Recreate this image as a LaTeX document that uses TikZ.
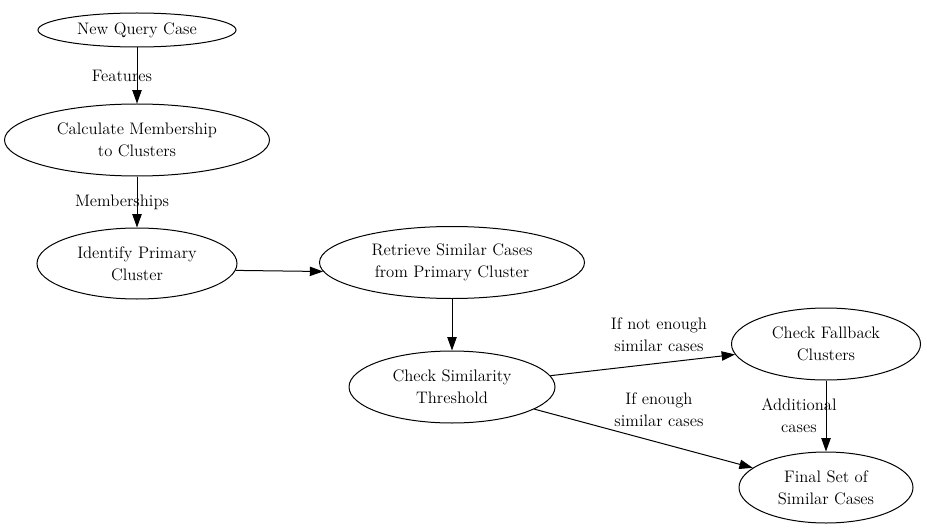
\documentclass[tikz,border=0pt]{standalone}
\usetikzlibrary{shapes.geometric,arrows.meta}

\begin{document}
\begin{tikzpicture}[x=0.75pt,y=-0.75pt,line width=0.75pt,
    every node/.style={font=\fontsize{12.5}{16.5}\selectfont, align=center},
    state/.style={draw, ellipse, inner sep=0pt},
    >={Triangle[length=10pt,width=7pt]}]
              \useasboundingbox (0,0) rectangle (927,531);

              \node [state, minimum width=148.5pt, minimum height=25.5pt] (query) at (137,30) {New Query Case};
              \node [state, minimum width=198.75pt, minimum height=54pt] (member) at (137,140) {Calculate Membership\\to Clusters};
              \node [state, minimum width=150pt, minimum height=53.25pt] (primary) at (137,263.5) {Identify Primary\\Cluster};
              \node [state, minimum width=198.75pt, minimum height=54pt] (retrieve) at (452,262.5) {Retrieve Similar Cases\\from Primary Cluster};
              \node [state, minimum width=154.5pt, minimum height=54pt] (check) at (452,387) {Check Similarity\\Threshold};
              \node [state, minimum width=141.75pt, minimum height=54pt] (fallback) at (826,344) {Check Fallback\\Clusters};
              \node [state, minimum width=130.5pt, minimum height=53.25pt] (final) at (826,487.5) {Final Set of\\Similar Cases};

              \draw [->] (query) -- (member) node [midway, xshift=-11.25pt] {Features};
              \draw [->] (member) -- (primary) node [midway, xshift=-11.25pt] {Memberships};
              \draw [->] (primary.-4) -- (retrieve.184);
              \draw [->] (retrieve) -- (check);
              \draw [->] (check) -- (fallback);
              \draw [->] (check) -- (final);
              \draw [->] (fallback) -- (final) node [midway, xshift=-20.25pt] {Additional\\cases};

              \node (notenough) at (659,335) {If not enough\\similar cases};
              \node (enough) at (659,410) {If enough\\similar cases};
            \end{tikzpicture}
\end{document}
